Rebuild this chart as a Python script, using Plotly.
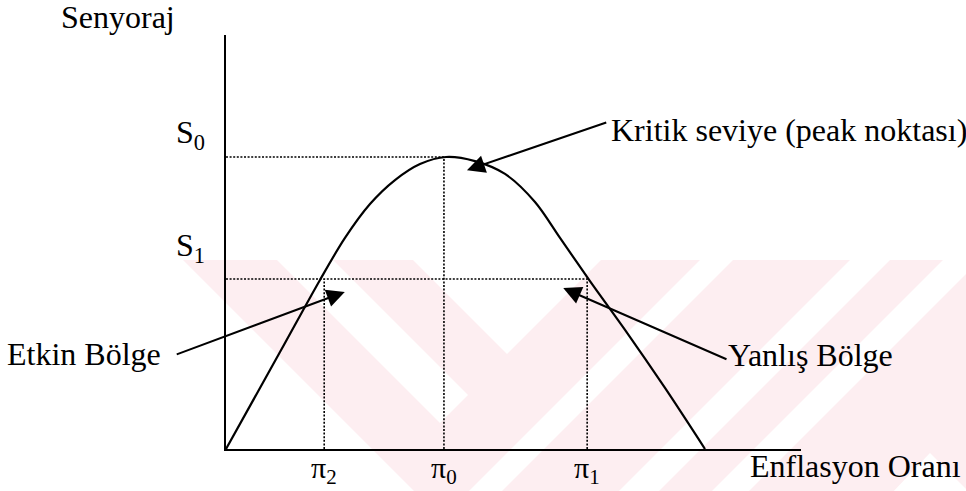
import plotly.graph_objects as go

# ---- data (inflation rate vs seigniorage, peak scaled to 100) ----
inflation = [0, 11.27, 19.62, 24.84, 30.06, 35.28, 40.50, 45.93,
             51.98, 58.25, 64.51, 69.73, 75.99, 83.30, 91.65, 100]
seigniorage = [0, 33.2, 57.9, 72.3, 83.9, 92.1, 97.6, 100,
               98.6, 94.2, 84.6, 72.3, 57.5, 40.8, 20.9, 0]

pi_positions = [20.5, 45.5, 75.4]          # pi2, pi0, pi1
pi_labels = ["π<sub>2</sub>", "π<sub>0</sub>", "π<sub>1</sub>"]
s_levels = [100, 58.2]                     # S0, S1
s_labels = ["S<sub>0</sub>", "S<sub>1</sub>"]

pi2, pi0, pi1 = pi_positions
S0, S1 = s_levels

FONT = "Liberation Serif, Times New Roman, serif"
FS = 32
W, H = 966, 491
L, R, T, B = 226, 165, 35, 42
XMAX = (W - L - R) / 4.79
YMAX = (H - T - B) / 2.92

fig = go.Figure()

dot = dict(color="black", width=1.6, dash="2px,1.6px")
# dotted guide lines
fig.add_trace(go.Scatter(x=[0, pi0], y=[S0, S0], mode="lines", line=dot, hoverinfo="skip"))
fig.add_trace(go.Scatter(x=[pi0, pi0], y=[0, S0], mode="lines", line=dot, hoverinfo="skip"))
fig.add_trace(go.Scatter(x=[0, pi1], y=[S1, S1], mode="lines", line=dot, hoverinfo="skip"))
fig.add_trace(go.Scatter(x=[pi2, pi2], y=[0, S1], mode="lines", line=dot, hoverinfo="skip"))
fig.add_trace(go.Scatter(x=[pi1, pi1], y=[0, S1], mode="lines", line=dot, hoverinfo="skip"))

# Laffer-type seigniorage curve
fig.add_trace(go.Scatter(x=inflation, y=seigniorage, mode="lines",
                         line=dict(color="black", width=2.2, shape="spline", smoothing=0.9),
                         hoverinfo="skip"))


# ---- pixel -> paper helper for decorations and labels ----
def P(px, py):
    return ((px - L) / (W - L - R), (H - B - py) / (H - T - B))


def poly(points, color):
    pts = [P(*p) for p in points]
    path = "M " + " L ".join(f"{x:.4f},{y:.4f}" for x, y in pts) + " Z"
    return dict(type="path", xref="paper", yref="paper", path=path,
                fillcolor=color, line=dict(width=0), layer="below")


# faint watermark
PINK = "#fdeef1"
shapes = [
    poly([(183, 260), (1000, 260), (1000, 495), (418, 495)], PINK),
    poly([(277, 260), (333, 260), (468, 395), (440, 423)], "white"),
    poly([(413, 260), (507, 354), (601, 260)], "white"),
    poly([(700, 260), (733, 260), (498, 495), (465, 495)], "white"),
    poly([(850, 260), (890, 260), (655, 495), (615, 495)], "white"),
    poly([(943, 260), (980, 260), (745, 495), (708, 495)], "white"),
    poly([(890, 495), (930, 453), (972, 495)], "white"),
]

tf = dict(family=FONT, size=FS, color="black")


def label(px, py, text, xanchor="center"):
    x, y = P(px, py)
    return dict(x=x, y=y, xref="paper", yref="paper", text=text, showarrow=False,
                font=tf, xanchor=xanchor, yanchor="middle")


ann = [
    label(118, 17, "Senyoraj"),
    label(748, 466, "Enflasyon Oranı", "left"),
    label(609, 130, "Kritik seviye (peak noktası)", "left"),
    label(163, 354, "Etkin Bölge", "right"),
    label(726, 355, "Yanlış Bölge", "left"),
]
for lvl, lab, py in zip(s_levels, s_labels, [134, 247]):
    ann.append(label(190, py, lab))

# inflation-rate tick labels under the axis
for pos, lab in zip(pi_positions, pi_labels):
    ann.append(dict(x=pos, y=P(0, 470)[1], xref="x", yref="paper", text=lab,
                    showarrow=False, font=dict(family=FONT, size=30, color="black"),
                    xanchor="center", yanchor="middle", borderpad=0))

# arrows (tip, tail) in data units
arrows = [((50.3, 95.5), (79.7, 112.0)),
          ((24.8, 53.8), (-10.6, 32.2)),
          ((70.4, 55.1), (104.8, 30.5))]
for (tx, ty), (sx, sy) in arrows:
    ann.append(dict(x=tx, y=ty, ax=sx, ay=sy, xref="x", yref="y", axref="x", ayref="y",
                    text="", showarrow=True, arrowhead=2, arrowsize=1.8, arrowwidth=2,
                    arrowcolor="black", standoff=0, startstandoff=0))

fig.update_layout(
    width=W, height=H,
    margin=dict(l=L, r=R, t=T, b=B, pad=0, autoexpand=False),
    paper_bgcolor="white", plot_bgcolor="rgba(0,0,0,0)",
    showlegend=False,
    shapes=shapes,
    annotations=ann,
    xaxis=dict(range=[0, XMAX], showgrid=False, zeroline=False, showline=True,
               linecolor="black", linewidth=2.2, ticks="", automargin=False,
               tickvals=pi_positions, showticklabels=False, fixedrange=True),
    yaxis=dict(range=[0, YMAX], showgrid=False, zeroline=False, showline=True,
               linecolor="black", linewidth=2.2, ticks="", showticklabels=False,
               automargin=False, fixedrange=True),
)

fig.write_html("out.html",
               config={"displayModeBar": False, "staticPlot": True},
               post_script="document.body.style.margin='0';document.body.style.padding='0';"
                           "document.body.style.overflow='hidden';")
